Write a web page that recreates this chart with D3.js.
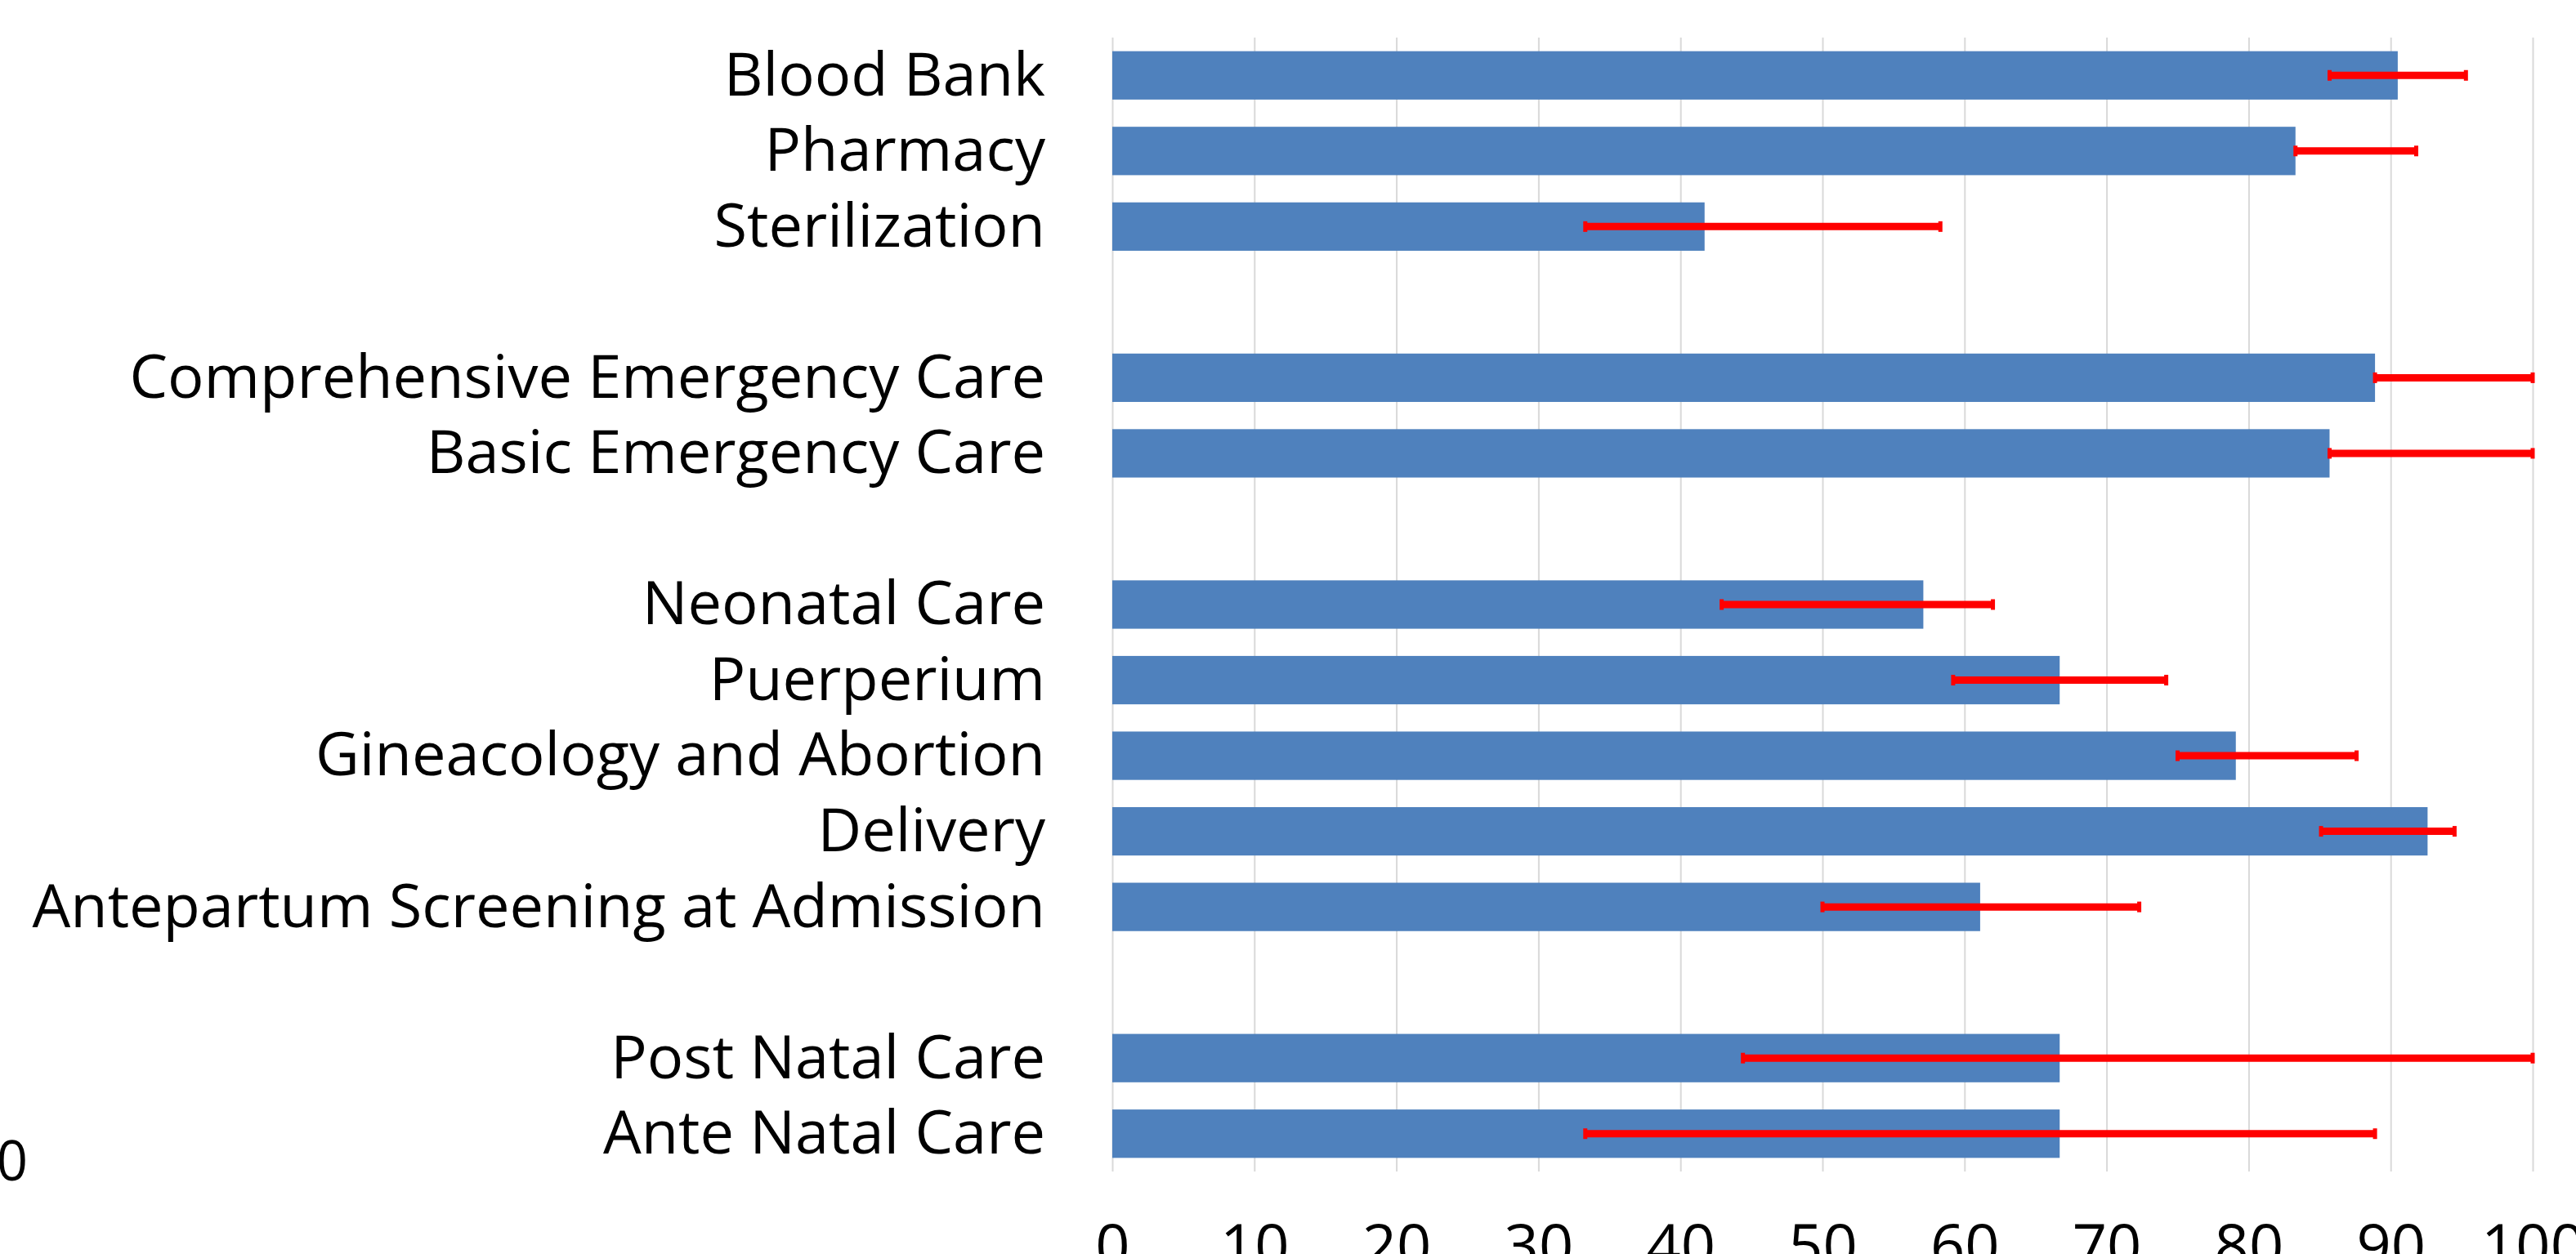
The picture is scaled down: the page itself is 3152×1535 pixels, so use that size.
<!DOCTYPE html>
<html>
<head>
<meta charset="utf-8">
<script src="https://cdn.jsdelivr.net/npm/d3@7"></script>
<style>
  html, body { margin: 0; padding: 0; background: #fff; overflow: hidden; }
  svg { display: block; }
  text { font-variant-ligatures: none; }
</style>
</head>
<body>
<svg id="chart" width="3152" height="1535"></svg>
<script>
// Categories from top to bottom; empty strings are the blank separator rows
const categories = [
  "Blood Bank", "Pharmacy", "Sterilization", "",
  "Comprehensive Emergency Care", "Basic Emergency Care", "",
  "Neonatal Care", "Puerperium", "Gineacology and Abortion", "Delivery",
  "Antepartum Screening at Admission", "",
  "Post Natal Care", "Ante Natal Care"
];
const values   = [90.5, 83.3, 41.7, null, 88.9, 85.7, null, 57.1, 66.7, 79.1, 92.6, 61.1, null, 66.7, 66.7];
const errLow   = [85.7, 83.3, 33.3, null, 88.9, 85.7, null, 42.9, 59.2, 75.0, 85.1, 50.0, null, 44.4, 33.3];
const errHigh  = [95.3, 91.8, 58.3, null, 100, 100, null, 62.0, 74.2, 87.6, 94.5, 72.3, null, 100, 88.9];
const xTicks   = [0, 10, 20, 30, 40, 50, 60, 70, 80, 90, 100];
const sideLabel = "0";

const FONT = "'Open Sans', 'Noto Sans', sans-serif";
const svg = d3.select("#chart");

const keys = categories.map((c, i) => "k" + i);
const x = d3.scaleLinear().domain([0, 100]).range([1361, 3099]);
const y = d3.scaleBand().domain(keys).range([46, 1434]).paddingInner(0.36).paddingOuter(0.18);

// gridlines
svg.append("g")
  .attr("transform", `translate(0,${1434})`)
  .call(d3.axisBottom(x).tickValues(xTicks).tickSize(-(1434 - 46)).tickFormat(""))
  .call(g => g.select(".domain").remove())
  .call(g => g.selectAll("line").attr("stroke", "#d9d9d9").attr("stroke-width", 2));

const rows = categories.map((c, i) => ({ key: keys[i], label: c, v: values[i], lo: errLow[i], hi: errHigh[i] }))
  .filter(d => d.v !== null);

// bars
svg.append("g").selectAll("rect").data(rows).join("rect")
  .attr("x", x(0))
  .attr("y", d => y(d.key))
  .attr("width", d => x(d.v) - x(0))
  .attr("height", y.bandwidth())
  .attr("fill", "#4f81bd");

// error bars
const eg = svg.append("g").selectAll("g").data(rows).join("g");
eg.append("line")
  .attr("x1", d => x(d.lo)).attr("x2", d => x(d.hi))
  .attr("y1", d => y(d.key) + y.bandwidth() / 2)
  .attr("y2", d => y(d.key) + y.bandwidth() / 2)
  .attr("stroke", "#ff0000").attr("stroke-width", 9);
eg.selectAll(".cap").data(d => [d.lo, d.hi].map(v => ({ v, key: d.key }))).join("line")
  .attr("class", "cap")
  .attr("x1", d => x(d.v)).attr("x2", d => x(d.v))
  .attr("y1", d => y(d.key) + y.bandwidth() / 2 - 6.5)
  .attr("y2", d => y(d.key) + y.bandwidth() / 2 + 6.5)
  .attr("stroke", "#ff0000").attr("stroke-width", 5);

// category labels
svg.append("g")
  .attr("transform", `translate(${x(0)},0)`)
  .call(d3.axisLeft(y).tickSize(0).tickPadding(82).tickFormat(k => categories[keys.indexOf(k)]))
  .call(g => g.select(".domain").remove())
  .call(g => g.selectAll("text")
    .attr("font-family", FONT).attr("font-size", 74).attr("fill", "#000")
    .attr("dy", "0.33em"));

// x tick labels
svg.append("g")
  .attr("transform", `translate(0,1434)`)
  .call(d3.axisBottom(x).tickValues(xTicks).tickSize(0).tickPadding(0))
  .call(g => g.select(".domain").remove())
  .call(g => g.selectAll("text")
    .attr("font-family", FONT).attr("font-size", 74).attr("fill", "#000")
    .attr("dy", null).attr("y", 117));

// stray label at left edge
svg.append("text")
  .attr("x", 34).attr("y", 1445)
  .attr("text-anchor", "end")
  .attr("font-family", FONT).attr("font-size", 67).attr("fill", "#000")
  .text(sideLabel);
</script>
</body>
</html>
